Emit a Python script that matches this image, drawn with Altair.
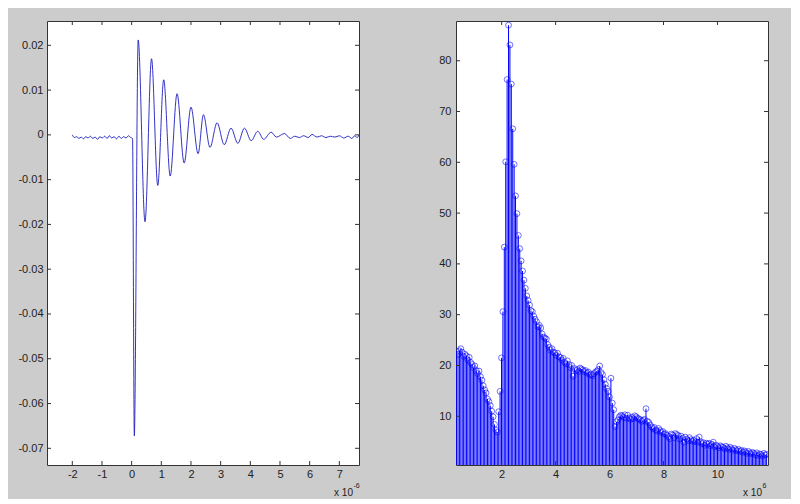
import altair as alt
import pandas as pd

# ---------------- data ----------------
# Left panel: time-domain waveform (time in units of 1e-6 s)
wave_t = [-2.0, -1.93, -1.85, -1.78, -1.70, -1.62, -1.55, -1.47, -1.39, -1.31,
          -1.23, -1.15, -1.07, -0.99, -0.91, -0.83, -0.75, -0.67, -0.59, -0.51,
          -0.43, -0.35, -0.27, -0.19, -0.11, -0.03, 0.03,
          0.09, 0.22, 0.45, 0.67, 0.88, 1.08, 1.30, 1.53, 1.77, 2.00, 2.24, 2.42,
          2.64, 2.88, 3.12, 3.35, 3.58, 3.80, 4.03, 4.25, 4.45, 4.70, 4.88, 5.15,
          5.35, 5.50, 5.65, 5.80, 5.95, 6.08, 6.25, 6.40, 6.55, 6.70, 6.85, 7.00,
          7.15, 7.30, 7.42, 7.52, 7.60, 7.663]
wave_v = [0.0, -0.0006, -0.0004, -0.0008, -0.0005, -0.0009, -0.0004, -0.0007, -0.0003, -0.0008,
          -0.0005, -0.0010, -0.0004, -0.0007, -0.0003, -0.0008, -0.0002, -0.0007, -0.0004, -0.0009,
          -0.0003, -0.0008, -0.0004, -0.0007, -0.0002, -0.0006, -0.0008,
          -0.0672, 0.0212, -0.0194, 0.0170, -0.0113, 0.0123, -0.0092, 0.0092, -0.0063, 0.0062, -0.0042, 0.0045,
          -0.0028, 0.0027, -0.0022, 0.0015, -0.0019, 0.0015, -0.0013, 0.0008, -0.0010, 0.0006, -0.0005, 0.0003,
          -0.0008, -0.0003, -0.0006, -0.0002, -0.0006, 0.0001, -0.0005, -0.0002, -0.0006, -0.0003, -0.0005, -0.0002,
          -0.0007, -0.0003, -0.0008, -0.0002, -0.0006, 0.0]

# Right panel: spectrum stems (frequency in units of 1e6 Hz, regular bin grid)
spec_f_start = 0.33
spec_f_step = 0.052
spec_amp = [
    22.8, 22.2, 22.9, 23.3, 22.6, 21.8, 22.2, 21.9, 21.1, 21.6,
    20.6, 20.2, 19.6, 19.9, 19.0, 18.4, 18.9, 17.8, 17.1, 16.0,
    15.2, 14.6, 13.4, 12.9, 12.1, 11.0, 9.9, 8.4, 7.3, 6.9, 10.9, 14.9,
    21.5, 30.6, 43.3, 60.1, 76.3, 87.0, 83.1, 75.4, 66.6, 59.6, 53.4, 49.9, 45.6, 43.0,
    40.6, 38.6, 36.8, 35.2, 33.7, 32.8, 31.9, 30.8, 30.6, 29.7, 29.1, 28.6, 27.6, 27.9,
    27.4, 26.2, 25.6, 25.4, 25.2, 24.1, 23.6, 23.0, 23.3, 22.6,
    22.5, 22.0, 22.4, 21.7, 21.6, 21.1, 21.4, 20.6, 20.3, 20.9,
    20.2, 19.6, 20.0, 17.9, 19.4, 19.0, 19.2, 18.8, 19.5, 19.3,
    19.1, 18.8, 19.0, 18.5, 18.7, 18.1, 18.3, 18.0, 18.4, 18.7,
    18.9, 19.2, 19.9, 18.6, 18.2, 17.2, 16.3, 15.5, 14.9, 13.8, 17.5, 12.6, 11.3, 8.0,
    8.9, 9.3, 9.9, 10.2, 10.1, 9.8, 10.3, 9.6, 10.2, 9.7, 9.4, 9.8, 9.5, 10.1, 9.9, 9.6,
    9.5, 9.3, 9.0, 9.2, 9.4, 11.5, 9.0, 8.8, 8.3, 7.9,
    7.6, 7.8, 7.3, 7.1, 7.6, 7.2, 6.8, 7.0, 6.5, 6.6,
    6.3, 6.0, 5.6, 6.5, 6.3, 5.8, 6.6, 6.4, 6.2, 5.5,
    6.1, 5.7, 4.9, 5.9, 5.5, 5.2, 5.8, 5.4, 5.1, 5.3,
    5.0, 5.6, 4.9, 5.9, 5.0, 4.6, 4.8, 4.3, 4.7, 4.5,
    4.7, 4.2, 4.5, 4.9, 4.0, 4.3, 4.1, 3.8, 4.2, 4.0,
    3.9, 3.6, 4.1, 3.8, 3.5, 3.9, 3.6, 3.3, 3.7, 3.4,
    3.2, 3.5, 3.1, 3.3, 2.9, 3.2, 3.0, 2.7, 3.1, 2.8,
    2.6, 2.9, 2.7, 2.4, 2.8, 2.3, 2.6, 2.5, 2.2, 2.7, 2.4, 2.5,
]

left_xticks = [-2, -1, 0, 1, 2, 3, 4, 5, 6, 7]
left_yticks = [-0.07, -0.06, -0.05, -0.04, -0.03, -0.02, -0.01, 0.0, 0.01, 0.02]
right_xticks = [2, 4, 6, 8, 10]
right_yticks = [10, 20, 30, 40, 50, 60, 70, 80]

left_exponent = ["x 10", "-6"]
right_exponent = ["x 10", "6"]

# ---------------- style ----------------
LEFT_XDOM = [-2.853, 7.663]
LEFT_YDOM = [-0.07373, 0.02543]
RIGHT_XDOM = [0.307, 11.874]
RIGHT_YDOM = [0.41, 87.82]

W, H = 312, 444
BLUE = "#0000ff"
LINE = "#1c1cc0"
TICK = "#333333"
TXT = "#222222"
FONT = "Liberation Sans"
TL = 4  # inward tick length


def axis(values, expr, extent=None, pad=4):
    kw = dict(values=values, labelExpr=expr, domain=False, ticks=False, grid=False,
              labelFont=FONT, labelFontSize=11, labelColor=TXT, labelPadding=pad,
              labelOverlap=False, labelFlush=False, title=None)
    if extent is not None:
        kw["minExtent"] = extent
        kw["maxExtent"] = extent
    return alt.Axis(**kw)


def panel(main_layers, xs, ys, xaxis, yaxis, xticks, yticks, expo):
    xt = pd.DataFrame({"tv": xticks})
    yt = pd.DataFrame({"tv": yticks})
    bx = alt.X("tv:Q", scale=xs, axis=xaxis)
    by = alt.Y("tv:Q", scale=ys, axis=yaxis)
    bottom = alt.Chart(xt).mark_rule(color=TICK, strokeWidth=1).encode(
        x=bx, y=alt.value(H), y2=alt.value(H - TL))
    top = alt.Chart(xt).mark_rule(color=TICK, strokeWidth=1).encode(
        x=bx, y=alt.value(0), y2=alt.value(TL))
    left = alt.Chart(yt).mark_rule(color=TICK, strokeWidth=1).encode(
        y=by, x=alt.value(0), x2=alt.value(TL))
    right = alt.Chart(yt).mark_rule(color=TICK, strokeWidth=1).encode(
        y=by, x=alt.value(W - TL), x2=alt.value(W))
    base = alt.Chart(pd.DataFrame({"s": [expo[0]]})).mark_text(
        align="right", baseline="middle", font=FONT, fontSize=10, color=TXT
    ).encode(text="s:N", x=alt.value(W - 6), y=alt.value(H + 28))
    sup = alt.Chart(pd.DataFrame({"s": [expo[1]]})).mark_text(
        align="left", baseline="middle", font=FONT, fontSize=7, color=TXT
    ).encode(text="s:N", x=alt.value(W - 5.5), y=alt.value(H + 21))
    return alt.layer(*main_layers, bottom, top, left, right, base, sup).properties(
        width=W, height=H)


# ---------------- left panel ----------------
lxs = alt.Scale(domain=LEFT_XDOM, nice=False, zero=False)
lys = alt.Scale(domain=LEFT_YDOM, nice=False, zero=False)
lxa = axis(left_xticks, "toString(round(datum.value))", pad=3)
lya = axis(left_yticks, "datum.value == 0 ? '0' : toString(round(datum.value*100)/100)",
           extent=38, pad=4)
wave_df = pd.DataFrame({"t": wave_t, "v": wave_v})

wave = alt.Chart(wave_df).mark_line(
    color=LINE, strokeWidth=0.9, interpolate="monotone", clip=True
).encode(
    x=alt.X("t:Q", scale=lxs, axis=lxa),
    y=alt.Y("v:Q", scale=lys, axis=lya),
    order=alt.Order("t:Q"),
)

left_panel = panel([wave], lxs, lys, lxa, lya, left_xticks, left_yticks, left_exponent)

# ---------------- right panel ----------------
rxs = alt.Scale(domain=RIGHT_XDOM, nice=False, zero=False)
rys = alt.Scale(domain=RIGHT_YDOM, nice=False, zero=False)
rxa = axis(right_xticks, "toString(round(datum.value))", pad=3)
rya = axis(right_yticks, "toString(round(datum.value))", extent=30, pad=5)
spec_df = pd.DataFrame({
    "f": [spec_f_start + spec_f_step * i for i in range(len(spec_amp))],
    "a": spec_amp,
})

stems = alt.Chart(spec_df).mark_rule(color=BLUE, strokeWidth=1.0, clip=True).encode(
    x=alt.X("f:Q", scale=rxs, axis=rxa),
    y=alt.Y("a:Q", scale=rys, axis=rya),
    y2=alt.datum(0),
)
heads = alt.Chart(spec_df).mark_point(
    shape="circle", filled=False, size=34, color=BLUE, strokeWidth=0.8, clip=True
).encode(
    x=alt.X("f:Q", scale=rxs, axis=rxa),
    y=alt.Y("a:Q", scale=rys, axis=rya),
)

right_panel = panel([stems, heads], rxs, rys, rxa, rya, right_xticks, right_yticks,
                    right_exponent)

chart = alt.hconcat(left_panel, right_panel, spacing=64).properties(
    background="#cccccc",
    padding={"left": 0, "top": 12, "right": 22, "bottom": 0},
).configure_view(
    stroke=TICK, strokeWidth=1, fill="white"
)

chart.save("out.html", embed_options={"renderer": "svg", "actions": False})
